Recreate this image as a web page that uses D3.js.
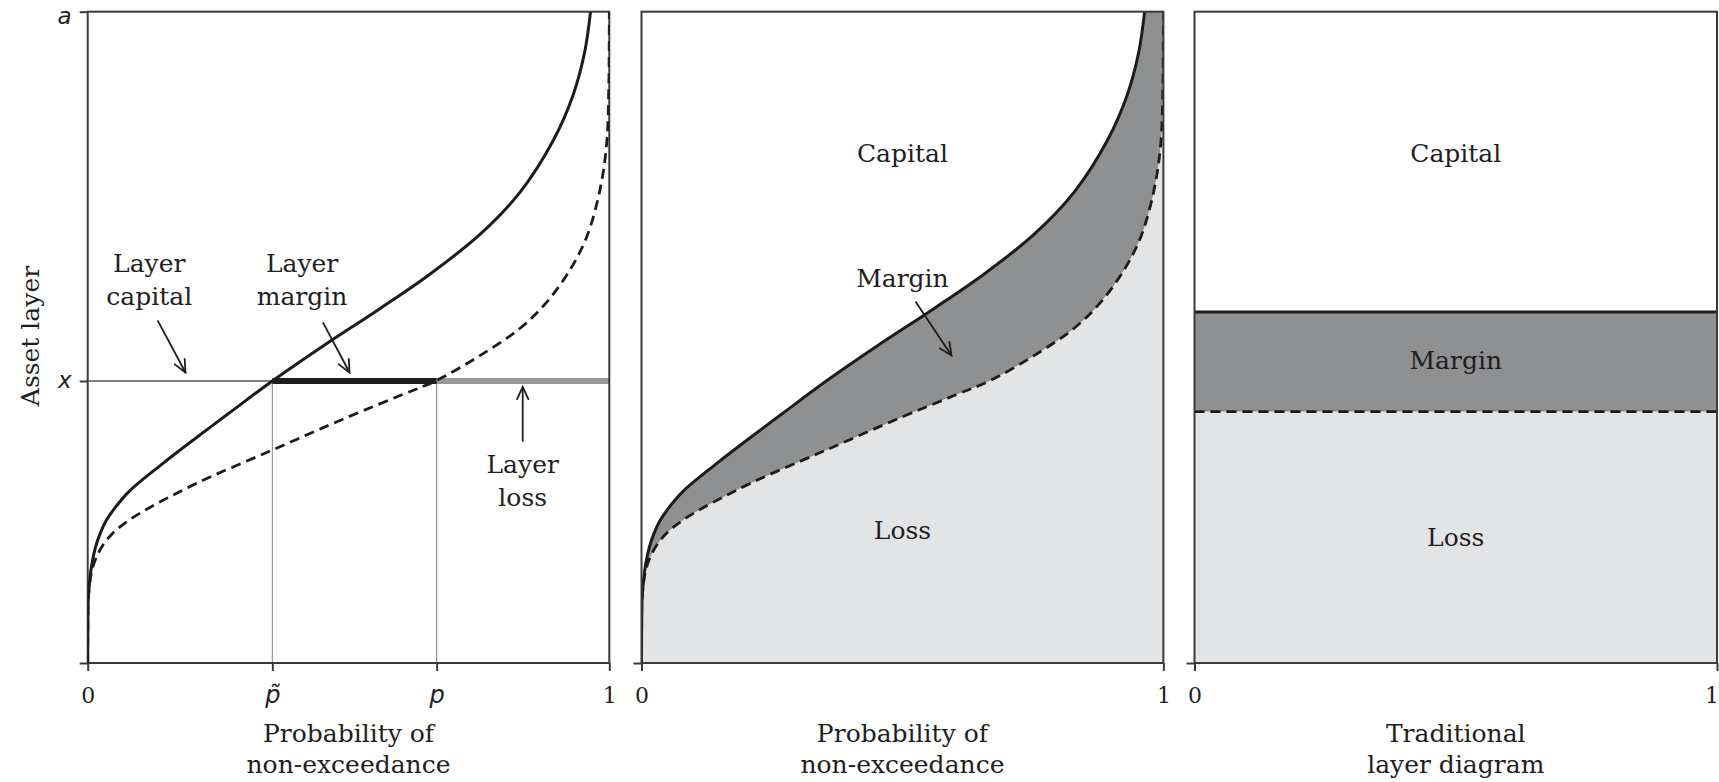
<!DOCTYPE html>
<html>
<head>
<meta charset="utf-8">
<script src="https://cdn.jsdelivr.net/npm/d3@7"></script>
<style>
  body { margin: 0; background: #fff; }
  text { fill: #1e1e1e; }
</style>
</head>
<body>
<script>
// Distorted (priced) quantile curve - solid line
const solidProb  = [0, 0.0003, 0.001, 0.004, 0.008, 0.015, 0.024, 0.035, 0.05, 0.08, 0.145, 0.21, 0.27, 0.354, 0.45, 0.56, 0.656, 0.752, 0.829, 0.893, 0.931, 0.953, 0.964];
const solidAsset = [0, 0.06, 0.095, 0.128, 0.152, 0.178, 0.199, 0.218, 0.236, 0.264, 0.307, 0.347, 0.383, 0.433, 0.486, 0.544, 0.597, 0.658, 0.723, 0.803, 0.873, 0.939, 1.0];

// Loss quantile curve - dashed line
const dashProb  = [0, 0.0005, 0.001, 0.005, 0.009, 0.017, 0.03, 0.049, 0.075, 0.113, 0.209, 0.354, 0.497, 0.6, 0.669, 0.752, 0.829, 0.88, 0.925, 0.957, 0.982, 0.995, 0.999, 1.0];
const dashAsset = [0, 0.07, 0.098, 0.129, 0.145, 0.163, 0.182, 0.2, 0.217, 0.236, 0.276, 0.327, 0.377, 0.411, 0.434, 0.472, 0.514, 0.554, 0.604, 0.655, 0.726, 0.798, 0.885, 1.0];

// Layer picked out in the first panel
const layerLevel = 0.433;
const pTilde = 0.354;
const pLayer = 0.669;

// Traditional layer diagram levels (loss top, premium top)
const tradLevels = [0.386, 0.539];

// Tick labels
const p1BottomTicks = [0, pTilde, pLayer, 1];
const p1BottomLabels = ["0", "p\u0303", "p", "1"];
const p1LeftTicks = [0, layerLevel, 1];
const p1LeftLabels = ["", "x", "a"];
const unitTicks = [0, 1];
const unitLabels = ["0", "1"];

const W = 1719, H = 782;
const plotTop = 11.7, plotBottom = 663;
const panels = [
  { left: 87.7, right: 609.3 },
  { left: 641.5, right: 1163.4 },
  { left: 1194.5, right: 1717 }
];

const darkGrey = '#8f9092';
const lightGrey = '#e3e4e6';
const ink = '#1c1c1c';
const axisInk = '#3a3a3a';
const serif = '"DejaVu Serif", serif';
const sans = '"DejaVu Sans", sans-serif';

const svg = d3.select('body').append('svg')
  .attr('width', W)
  .attr('height', H);

const defs = svg.append('defs');
defs.append('marker')
  .attr('id', 'arrow')
  .attr('viewBox', '-15 -8 17 16')
  .attr('refX', 0).attr('refY', 0)
  .attr('markerWidth', 17).attr('markerHeight', 16)
  .attr('markerUnits', 'userSpaceOnUse')
  .attr('orient', 'auto')
  .append('path')
  .attr('d', 'M-13,-6L0,0L-13,6')
  .attr('fill', 'none')
  .attr('stroke', ink)
  .attr('stroke-width', 1.8);

panels.forEach((p, i) => {
  defs.append('clipPath')
    .attr('id', `clip${i}`)
    .append('rect')
    .attr('x', p.left).attr('y', plotTop)
    .attr('width', p.right - p.left).attr('height', plotBottom - plotTop);
});

const y = d3.scaleLinear().domain([0, 1]).range([plotBottom, plotTop]);
const xs = panels.map(p => d3.scaleLinear().domain([0, 1]).range([p.left, p.right]));

const solidPts = solidProb.map((p, i) => [p, solidAsset[i]]);
const dashPts = dashProb.map((p, i) => [p, dashAsset[i]]);

const lineFor = x => d3.line()
  .x(d => x(d[0]))
  .y(d => y(d[1]))
  .curve(d3.curveCatmullRom.alpha(0.5));

const drawCurves = (g, x, i) => {
  const line = lineFor(x);
  const c = g.append('g').attr('clip-path', `url(#clip${i})`);
  c.append('path')
    .attr('d', line(dashPts))
    .attr('fill', 'none')
    .attr('stroke', ink)
    .attr('stroke-width', 2.8)
    .attr('stroke-dasharray', '10,6');
  c.append('path')
    .attr('d', line(solidPts))
    .attr('fill', 'none')
    .attr('stroke', ink)
    .attr('stroke-width', 3);
};

const drawFrame = (g, x, bTicks, bLabels, lTicks, lLabels) => {
  g.append('rect')
    .attr('x', x(0)).attr('y', y(1))
    .attr('width', x(1) - x(0)).attr('height', y(0) - y(1))
    .attr('fill', 'none')
    .attr('stroke', axisInk)
    .attr('stroke-width', 2);

  const xAxis = d3.axisBottom(x)
    .tickValues(bTicks)
    .tickFormat((d, i) => bLabels[i])
    .tickSize(8)
    .tickSizeOuter(0);
  const gx = g.append('g')
    .attr('transform', `translate(0,${plotBottom})`)
    .call(xAxis);
  gx.select('.domain').remove();
  gx.selectAll('line').attr('stroke', axisInk).attr('stroke-width', 2);
  gx.selectAll('text')
    .attr('y', 40).attr('dy', 0)
    .style('font-family', d => (d === 0 || d === 1) ? serif : sans)
    .style('font-style', d => (d === 0 || d === 1) ? 'normal' : 'italic')
    .style('font-size', d => (d === 0 || d === 1) ? '22px' : '24px')
    .attr('fill', '#1e1e1e');

  const yAxis = d3.axisLeft(y)
    .tickValues(lTicks)
    .tickFormat((d, i) => lLabels[i])
    .tickSize(8)
    .tickSizeOuter(0);
  const gy = g.append('g')
    .attr('transform', `translate(${x(0)},0)`)
    .call(yAxis);
  gy.select('.domain').remove();
  gy.selectAll('line').attr('stroke', axisInk).attr('stroke-width', 2);
  gy.selectAll('text')
    .attr('x', -16)
    .attr('dy', d => d === 1 ? '0.5em' : '0.3em')
    .style('font-family', sans)
    .style('font-style', 'italic')
    .style('font-size', '23px')
    .attr('fill', '#1e1e1e');
  return gx;
};

const label = (g, x, u, v, lines) => {
  const t = g.append('text')
    .attr('text-anchor', 'middle')
    .style('font-family', serif)
    .style('font-size', '25px');
  lines.forEach((s, i) => {
    t.append('tspan')
      .attr('x', x(u))
      .attr('y', y(v) + i * 33)
      .text(s);
  });
};

const arrow = (g, x, from, to) => {
  g.append('line')
    .attr('x1', x(from[0])).attr('y1', y(from[1]))
    .attr('x2', x(to[0])).attr('y2', y(to[1]))
    .attr('stroke', ink)
    .attr('stroke-width', 1.8)
    .attr('marker-end', 'url(#arrow)');
};

const axisTitle = (g, x, lines) => {
  const t = g.append('text')
    .attr('text-anchor', 'middle')
    .style('font-family', serif)
    .style('font-size', '25px');
  lines.forEach((s, i) => {
    t.append('tspan')
      .attr('x', (x(0) + x(1)) / 2)
      .attr('y', 742 + i * 31)
      .text(s);
  });
};

// ---- Panel 1: layer detail
{
  const x = xs[0];
  const g = svg.append('g');

  // thin guide lines
  g.append('line')
    .attr('x1', x(0)).attr('x2', x(pTilde))
    .attr('y1', y(layerLevel)).attr('y2', y(layerLevel))
    .attr('stroke', '#555').attr('stroke-width', 1.3);
  [pTilde, pLayer].forEach(p => {
    g.append('line')
      .attr('x1', x(p)).attr('x2', x(p))
      .attr('y1', y(layerLevel)).attr('y2', y(0))
      .attr('stroke', '#8a8a8a').attr('stroke-width', 1.1);
  });

  // layer loss (grey) and layer margin (black) bars
  g.append('line')
    .attr('x1', x(pLayer)).attr('x2', x(1))
    .attr('y1', y(layerLevel)).attr('y2', y(layerLevel))
    .attr('stroke', '#999a9c').attr('stroke-width', 6);
  g.append('line')
    .attr('x1', x(pTilde)).attr('x2', x(pLayer))
    .attr('y1', y(layerLevel)).attr('y2', y(layerLevel))
    .attr('stroke', ink).attr('stroke-width', 6);

  drawFrame(g, x, p1BottomTicks, p1BottomLabels, p1LeftTicks, p1LeftLabels);
  drawCurves(g, x, 0);

  label(g, x, 0.118, 0.600, ['Layer', 'capital']);
  label(g, x, 0.411, 0.600, ['Layer', 'margin']);
  label(g, x, 0.834, 0.291, ['Layer', 'loss']);
  arrow(g, x, [0.134, 0.526], [0.1875, 0.446]);
  arrow(g, x, [0.451, 0.523], [0.502, 0.446]);
  arrow(g, x, [0.834, 0.340], [0.834, 0.424]);

  axisTitle(g, x, ['Probability of', 'non-exceedance']);

  svg.append('text')
    .attr('transform', `translate(39,336) rotate(-90)`)
    .attr('text-anchor', 'middle')
    .style('font-family', serif)
    .style('font-size', '25px')
    .text('Asset layer');
}

// ---- Panel 2: whole distribution
{
  const x = xs[1];
  const g = svg.append('g');
  const line = lineFor(x);
  const fills = g.append('g').attr('clip-path', 'url(#clip1)');

  // margin fill: everything under the solid curve
  fills.append('path')
    .attr('d', line(solidPts) + `L${x(1)},${y(1)}L${x(1)},${y(0)}L${x(0)},${y(0)}Z`)
    .attr('fill', darkGrey);
  // loss fill: under the dashed curve
  fills.append('path')
    .attr('d', line(dashPts) + `L${x(1)},${y(0)}L${x(0)},${y(0)}Z`)
    .attr('fill', lightGrey);

  drawCurves(g, x, 1);
  drawFrame(g, x, unitTicks, unitLabels, [0], ['']);

  label(g, x, 0.5, 0.769, ['Capital']);
  label(g, x, 0.5, 0.578, ['Margin']);
  label(g, x, 0.5, 0.191, ['Loss']);
  arrow(g, x, [0.525, 0.555], [0.594, 0.472]);

  axisTitle(g, x, ['Probability of', 'non-exceedance']);
}

// ---- Panel 3: traditional layer diagram
{
  const x = xs[2];
  const g = svg.append('g');

  g.append('rect')
    .attr('x', x(0)).attr('y', y(tradLevels[0]))
    .attr('width', x(1) - x(0)).attr('height', y(0) - y(tradLevels[0]))
    .attr('fill', lightGrey);
  g.append('rect')
    .attr('x', x(0)).attr('y', y(tradLevels[1]))
    .attr('width', x(1) - x(0)).attr('height', y(tradLevels[0]) - y(tradLevels[1]))
    .attr('fill', darkGrey);

  g.append('line')
    .attr('x1', x(0)).attr('x2', x(1))
    .attr('y1', y(tradLevels[0])).attr('y2', y(tradLevels[0]))
    .attr('stroke', ink).attr('stroke-width', 2.8)
    .attr('stroke-dasharray', '10,6');
  g.append('line')
    .attr('x1', x(0)).attr('x2', x(1))
    .attr('y1', y(tradLevels[1])).attr('y2', y(tradLevels[1]))
    .attr('stroke', ink).attr('stroke-width', 3);

  const gx = drawFrame(g, x, unitTicks, unitLabels, [0], ['']);
  // the last "1" sits at the page edge: keep it inside
  gx.selectAll('text').filter(d => d === 1).attr('text-anchor', 'end').attr('x', 1.5);

  label(g, x, 0.5, 0.769, ['Capital']);
  label(g, x, 0.5, 0.451, ['Margin']);
  label(g, x, 0.5, 0.180, ['Loss']);

  axisTitle(g, x, ['Traditional', 'layer diagram']);
}
</script>
</body>
</html>
